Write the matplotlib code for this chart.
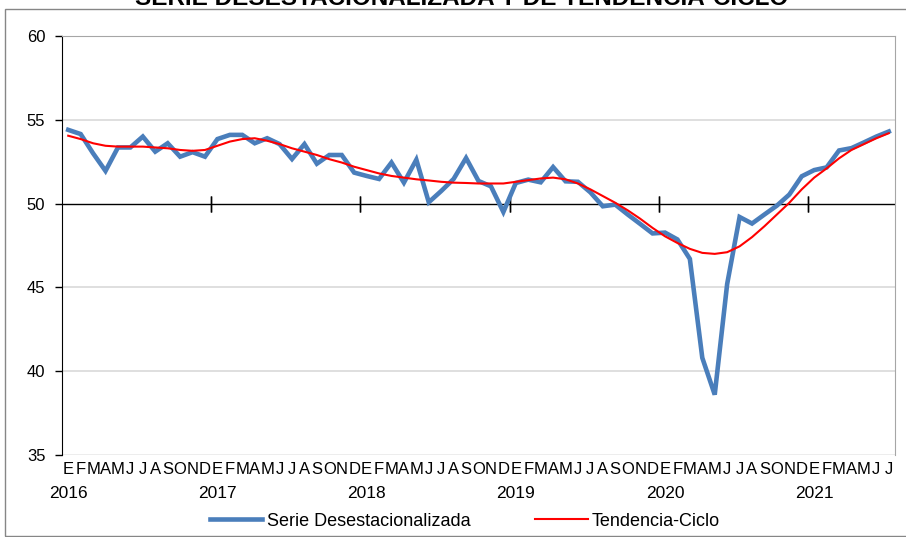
import matplotlib
matplotlib.use("Agg")
import matplotlib.pyplot as plt
from matplotlib.patches import Rectangle
from matplotlib.lines import Line2D
import matplotlib.transforms as mtransforms

plt.rcParams['font.family'] = ['Liberation Sans', 'DejaVu Sans']

month_letters = ["E", "F", "M", "A", "M", "J", "J", "A", "S", "O", "N", "D"]
years = ["2016", "2017", "2018", "2019", "2020", "2021"]
n_months = 67

serie = [
    # 2016
    54.4, 54.15, 53.0, 51.95, 53.35, 53.35, 54.0, 53.1, 53.6, 52.8, 53.07, 52.8,
    # 2017
    53.85, 54.1, 54.1, 53.6, 53.9, 53.55, 52.66, 53.55, 52.38, 52.9, 52.9, 51.85,
    # 2018
    51.65, 51.47, 52.45, 51.25, 52.62, 50.08, 50.75, 51.47, 52.72, 51.35, 51.03, 49.5,
    # 2019
    51.23, 51.43, 51.27, 52.18, 51.33, 51.3, 50.67, 49.84, 49.94, 49.35, 48.79, 48.22,
    # 2020
    48.27, 47.86, 46.7, 40.8, 38.6, 45.2, 49.2, 48.81, 49.35, 49.88, 50.54, 51.63,
    # 2021
    52.0, 52.16, 53.17, 53.31, 53.65, 54.0, 54.3,
]

tendencia = [
    # 2016
    54.05, 53.85, 53.6, 53.45, 53.4, 53.4, 53.4, 53.35, 53.3, 53.2, 53.15, 53.2,
    # 2017
    53.45, 53.7, 53.85, 53.9, 53.75, 53.55, 53.3, 53.1, 52.9, 52.65, 52.45, 52.2,
    # 2018
    52.0, 51.8, 51.65, 51.55, 51.45, 51.38, 51.3, 51.25, 51.23, 51.2, 51.2, 51.2,
    # 2019
    51.3, 51.4, 51.5, 51.55, 51.45, 51.2, 50.85, 50.45, 50.05, 49.6, 49.1, 48.55,
    # 2020
    48.05, 47.65, 47.3, 47.06, 47.0, 47.1, 47.45, 48.0, 48.65, 49.35, 50.05, 50.85,
    # 2021
    51.55, 52.1, 52.7, 53.2, 53.55, 53.9, 54.2,
]

W, H = 906, 537
fig = plt.figure(figsize=(W / 100, H / 100), dpi=100)

# outer chart frame
fig.patches.append(Rectangle((5 / W, 1 / H), 1.2, (535 - 8) / H, transform=fig.transFigure,
                             fill=False, edgecolor="#868686", linewidth=1.0))

# title (cut off at the top, as in the reference)
fig.text(462 / W, 1 - 5 / H, "SERIE DESESTACIONALIZADA Y DE TENDENCIA-CICLO",
         ha="center", va="baseline", fontsize=17.5, fontweight="bold")

left, right, top, bottom = 62, 895, 36, 455
ax = fig.add_axes([left / W, (H - bottom) / H, (right - left) / W, (bottom - top) / H])

x = list(range(n_months))
ax.plot(x, serie, color="#4A7EBB", linewidth=3.3, solid_joinstyle="miter", zorder=3,
        label="Serie Desestacionalizada")
ax.plot(x, tendencia, color="#FF0000", linewidth=1.5, zorder=4, label="Tendencia-Ciclo")

ax.set_xlim(-0.5, n_months - 0.5)
ax.set_ylim(35, 60)
ax.set_yticks([35, 40, 45, 50, 55, 60])
ax.tick_params(axis="y", direction="out", length=5, width=1, pad=7, labelsize=12)

for v in [40, 45, 55]:
    ax.axhline(v, color="#D9D9D9", linewidth=1.2, zorder=1)

ax.spines["top"].set_color("#A6A6A6")
ax.spines["right"].set_color("#A6A6A6")
ax.spines["left"].set_color("black")
ax.spines["bottom"].set_visible(False)
ax.axhline(35, color="#A6A6A6", linewidth=1.0, zorder=1)

# category axis crossing at 50
ax.axhline(50, color="black", linewidth=1.0, zorder=2)
ax.set_xticks([])
boundaries = [12 * k - 0.5 for k in range(1, 6)]
for b in boundaries:
    ax.plot([b, b], [50, 50], marker="|", markersize=12, color="black",
            markeredgewidth=1.0, zorder=2)

trans = mtransforms.blended_transform_factory(ax.transData, ax.transAxes)
for i in range(n_months):
    ax.text(i, -15 / (bottom - top), month_letters[i % 12], transform=trans,
            ha="center", va="center", fontsize=12)
for k, yr in enumerate(years):
    ax.text(12 * k, -39 / (bottom - top), yr, transform=trans,
            ha="center", va="center", fontsize=12.5)

# legend
handles = [Line2D([0], [0], color="#4A7EBB", linewidth=3.3),
           Line2D([0], [0], color="#FF0000", linewidth=1.5)]
fig.legend(handles, ["Serie Desestacionalizada", "Tendencia-Ciclo"],
           loc="center", bbox_to_anchor=(465 / W, 1 - 521 / H), ncol=2,
           frameon=False, fontsize=13, handlelength=2.9, handletextpad=0.25,
           columnspacing=3.6)

fig.savefig("out.png", dpi=100)
